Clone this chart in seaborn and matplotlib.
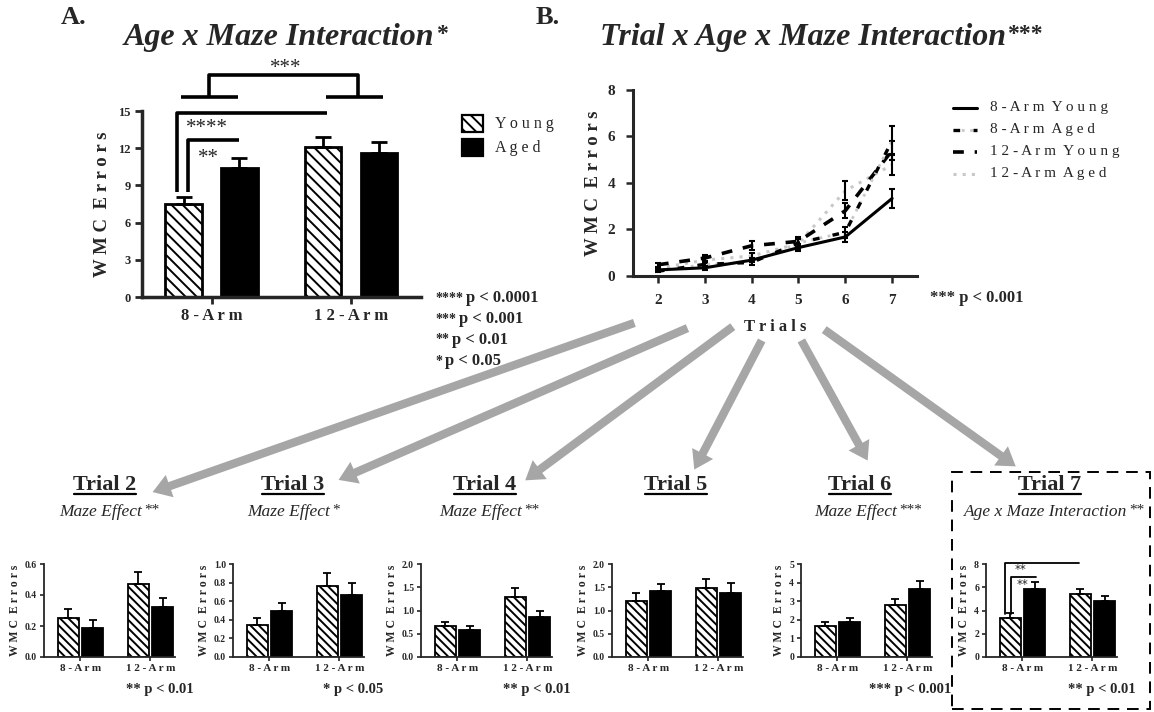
import numpy as np
import pandas as pd
import matplotlib
matplotlib.use("Agg")
import matplotlib.pyplot as plt
import seaborn as sns
from matplotlib.patches import FancyArrowPatch, Rectangle
from matplotlib.lines import Line2D
from matplotlib.transforms import IdentityTransform

# ---------------- data ----------------
mazes = ["8-Arm", "12-Arm"]
ages = ["Young", "Aged"]
maze_labels = ["8 - A r m", "1 2 - A r m"]

overall_young = [7.5, 12.1]
overall_aged = [10.4, 11.65]
overall_young_sem = [0.6, 0.8]
overall_aged_sem = [0.85, 0.85]

trials = [2, 3, 4, 5, 6, 7]
arm8_young = [0.25, 0.34, 0.67, 1.21, 1.67, 3.33]
arm8_aged = [0.19, 0.49, 0.57, 1.41, 1.87, 5.82]
arm12_young = [0.47, 0.76, 1.29, 1.48, 2.80, 5.40]
arm12_aged = [0.32, 0.67, 0.85, 1.38, 3.66, 4.78]
arm8_young_sem = [0.062, 0.082, 0.086, 0.16, 0.20, 0.42]
arm8_aged_sem = [0.047, 0.09, 0.094, 0.16, 0.225, 0.64]
arm12_young_sem = [0.078, 0.14, 0.187, 0.20, 0.325, 0.42]
arm12_aged_sem = [0.06, 0.13, 0.134, 0.21, 0.40, 0.45]

trial_ymax = [0.6, 1.0, 2.0, 2.0, 5, 8]
trial_ystep = [0.2, 0.2, 0.5, 0.5, 1, 2]
trial_effects = ["Maze Effect", "Maze Effect", "Maze Effect", "", "Maze Effect", "Age x Maze Interaction"]
trial_effect_stars = ["**", "*", "**", "", "***", "**"]
trial_pvals = ["** p < 0.01", "* p < 0.05", "** p < 0.01", "", "*** p < 0.001", "** p < 0.01"]

pval_lines_A = [("****", "p < 0.0001"), ("***", "p < 0.001"), ("**", "p < 0.01"), ("*", "p < 0.05")]

# ---------------- style ----------------
sns.set_style("ticks")
plt.rcParams["font.family"] = ["Liberation Serif", "DejaVu Serif"]
plt.rcParams["hatch.linewidth"] = 1.4

W, H = 1154, 712
fig = plt.figure(figsize=(W / 100, H / 100), dpi=100)


def ax_px(left, top, right, bottom):
    return fig.add_axes([left / W, 1 - bottom / H, (right - left) / W, (bottom - top) / H])


def ftext(x, y, s, **kw):
    return fig.text(x / W, 1 - y / H, s, **kw)


def sup(txt, s, size, **kw):
    return fig.axes[0].annotate(
        s, xy=(1, 1), xycoords=txt, xytext=(1, 0), textcoords="offset points",
        ha="left", va="top", fontsize=size, annotation_clip=False, **kw)


def bar_chart(ax, young, aged, ysem, asem, width, gap, lw, elw, capsize, hatch):
    df = pd.DataFrame({"Maze": mazes * 2,
                       "Age": ["Young"] * 2 + ["Aged"] * 2,
                       "Errors": list(young) + list(aged)})
    sns.barplot(data=df, x="Maze", y="Errors", hue="Age", order=mazes, hue_order=ages,
                palette={"Young": "white", "Aged": "black"}, width=width, gap=gap,
                edgecolor="black", linewidth=lw, legend=False, errorbar=None,
                saturation=1, ax=ax)
    for b in ax.containers[0]:
        b.set_hatch(hatch)
    for cont, sem in zip(list(ax.containers)[:2], [ysem, asem]):
        xs = [b.get_x() + b.get_width() / 2 for b in cont]
        ys = [b.get_height() for b in cont]
        ax.errorbar(xs, ys, yerr=[np.zeros(len(sem)), sem], fmt="none", ecolor="black",
                    elinewidth=elw, capsize=capsize, capthick=elw, zorder=1)
    sns.despine(ax=ax)


# ---------------- Panel A ----------------
axA = ax_px(141.7, 111, 421, 297)
bar_chart(axA, overall_young, overall_aged, overall_young_sem, overall_aged_sem,
          0.8, 0.35, 2.0, 2.0, 6, "\\\\\\")
axA.set_ylim(0, 15)
axA.set_xlim(-0.5, 1.5)
axA.set_yticks([0, 3, 6, 9, 12, 15])
axA.set_xticks([0, 1])
axA.set_xticklabels(maze_labels, fontsize=12, fontweight="bold")
for t in axA.get_yticklabels():
    t.set_fontsize(9)
    t.set_fontweight("bold")
axA.set_xlabel("")
axA.set_ylabel("W M C  E r r o r s", fontsize=13.5, fontweight="bold")
axA.yaxis.set_label_coords(-0.11, 0.5)
for sp in ["left", "bottom"]:
    axA.spines[sp].set_linewidth(2.5)
axA.tick_params(width=2, length=5, pad=3)

bk = dict(color="black", lw=2.6, clip_on=False, solid_capstyle="butt")
axA.plot([-0.216, 0.187], [16.16, 16.16], **bk)
axA.plot([0.82, 1.23], [16.16, 16.16], **bk)
axA.plot([-0.02, -0.02, 1.05, 1.05], [16.16, 17.9, 17.9, 16.16], **bk)
axA.text(0.53, 18.45, "***", ha="center", va="center", fontsize=15)
axA.plot([-0.245, -0.245, 0.825], [8.5, 14.84, 14.84], **bk)
axA.plot([-0.17, -0.17, 0.195], [8.5, 12.67, 12.67], **bk)
axA.text(-0.03, 13.55, "****", ha="center", va="center", fontsize=15)
axA.text(-0.025, 11.15, "**", ha="center", va="center", fontsize=15)

# legend A
fig.add_artist(Rectangle((462 / W, 1 - 132 / H), 21 / W, 17 / H, transform=fig.transFigure,
                         facecolor="white", edgecolor="black", lw=1.6, hatch="\\\\\\"))
fig.add_artist(Rectangle((462 / W, 1 - 156 / H), 21 / W, 17 / H, transform=fig.transFigure,
                         facecolor="black", edgecolor="black", lw=1.6))
ftext(495, 124, "Y o u n g", fontsize=11.5, va="center")
ftext(495, 148, "A g e d", fontsize=11.5, va="center")

# p values A
for i, (st, pv) in enumerate(pval_lines_A):
    y = 298 + 21 * i
    t = ftext(435, y, st, fontsize=10, va="center", fontweight="bold")
    fig.axes[0].annotate(pv, xy=(1, 0), xycoords=t, xytext=(2, -1), textcoords="offset points",
                         ha="left", va="bottom", fontsize=12, fontweight="bold",
                         annotation_clip=False)

# titles
ftext(61, 17, "A.", fontsize=19, fontweight="bold", va="center")
tA = ftext(279, 38, "Age x Maze Interaction", fontsize=23, fontweight="bold",
           fontstyle="italic", ha="center", va="center")
sup(tA, "*", 17, fontweight="bold")
ftext(536, 17, "B.", fontsize=19, fontweight="bold", va="center")
tB = ftext(803, 38, "Trial x Age x Maze Interaction", fontsize=23, fontweight="bold",
           fontstyle="italic", ha="center", va="center")
sup(tB, "***", 17, fontweight="bold")

# ---------------- Panel B ----------------
axB = ax_px(633, 90, 917, 275.7)
series = [
    ("12-Arm Aged", arm12_aged, arm12_aged_sem),
    ("12-Arm Young", arm12_young, arm12_young_sem),
    ("8-Arm Aged", arm8_aged, arm8_aged_sem),
    ("8-Arm Young", arm8_young, arm8_young_sem),
]
styles = {
    "8-Arm Young": [dict(color="black", lw=2.2, linestyle="-")],
    "8-Arm Aged": [dict(color="#c8c8c8", lw=2.0, linestyle=(0, (1, 2))),
                   dict(color="black", lw=2.4, linestyle=(0, (2, 4)))],
    "12-Arm Young": [dict(color="black", lw=2.6, linestyle=(0, (3, 3)))],
    "12-Arm Aged": [dict(color="#c8c8c8", lw=2.2, linestyle=(0, (1, 2)))],
}
for name, vals, sem in series:
    for st in styles[name]:
        sns.lineplot(x=trials, y=vals, ax=axB, errorbar=None, **st)
    axB.errorbar(trials, vals, yerr=sem, fmt="none", ecolor="black", elinewidth=1.5,
                 capsize=2.5, capthick=1.5)
axB.set_xlim(1.47, 7.53)
axB.set_ylim(0, 8)
axB.set_xticks(trials)
axB.set_yticks([0, 2, 4, 6, 8])
for t in axB.get_xticklabels() + axB.get_yticklabels():
    t.set_fontsize(11)
    t.set_fontweight("bold")
axB.set_xlabel("T r i a l s", fontsize=12, fontweight="bold", labelpad=9)
axB.set_ylabel("W M C  E r r o r s", fontsize=13.5, fontweight="bold")
axB.yaxis.set_label_coords(-0.11, 0.5)
sns.despine(ax=axB)
for sp in ["left", "bottom"]:
    axB.spines[sp].set_linewidth(2.2)
axB.tick_params(width=1.8, length=5, pad=8)

# legend B
leg_rows = ["8-Arm Young", "8-Arm Aged", "12-Arm Young", "12-Arm Aged"]
leg_text = ["8 - A r m  Y o u n g", "8 - A r m  A g e d", "1 2 - A r m  Y o u n g", "1 2 - A r m  A g e d"]
for i, (nm, lt) in enumerate(zip(leg_rows, leg_text)):
    y = 1 - (108 + 22 * i) / H
    for st in styles[nm]:
        fig.add_artist(Line2D([953 / W, 977 / W], [y, y], transform=fig.transFigure, **st))
    fig.text(990 / W, y, lt, fontsize=11, va="center")
ftext(930, 298, "*** p < 0.001", fontsize=12, fontweight="bold", va="center")

# ---------------- trial panels ----------------
lefts = [44, 233, 421, 612, 801, 986]
trial_data = list(zip(arm8_young, arm8_aged, arm12_young, arm12_aged,
                      arm8_young_sem, arm8_aged_sem, arm12_young_sem, arm12_aged_sem))
title_centers = [105, 293, 485, 676, 860, 1050]
title_objs = []
for i, tr in enumerate(trials):
    ax = ax_px(lefts[i], 564, lefts[i] + 131, 657)
    y8, a8, y12, a12, sy8, sa8, sy12, sa12 = trial_data[i]
    bar_chart(ax, [y8, y12], [a8, a12], [sy8, sy12], [sa8, sa12],
              0.7, 0.15, 1.3, 1.3, 3, "\\\\\\\\")
    ax.set_xlim(-0.52, 1.35)
    ax.set_ylim(0, trial_ymax[i])
    yt = np.arange(0, trial_ymax[i] + 1e-9, trial_ystep[i])
    ax.set_yticks(yt)
    if trial_ystep[i] < 1:
        ax.set_yticklabels([f"{v:.1f}" for v in yt])
    else:
        ax.set_yticklabels([f"{int(v)}" for v in yt])
    ax.set_xticks([0, 1])
    ax.set_xticklabels(maze_labels, fontsize=8, fontweight="bold")
    for t in ax.get_yticklabels():
        t.set_fontsize(7)
        t.set_fontweight("bold")
    ax.set_xlabel("")
    ax.set_ylabel("W M C  E r r o r s", fontsize=8.5, fontweight="bold", labelpad=3)
    for sp in ["left", "bottom"]:
        ax.spines[sp].set_linewidth(1.3)
    ax.tick_params(width=1.2, length=3, pad=2)

    tt = ftext(title_centers[i], 485, f"Trial {tr}", fontsize=16, fontweight="bold",
               ha="center", va="center")
    title_objs.append(tt)
    if trial_effects[i]:
        te = ftext(title_centers[i] - 4, 512, trial_effects[i], fontsize=12.5,
                   fontstyle="italic", ha="center", va="center")
        sup(te, trial_effect_stars[i], 11)
    if trial_pvals[i]:
        ftext(lefts[i] + 150, 690, trial_pvals[i], fontsize=10.5, fontweight="bold",
              ha="right", va="center")
    if tr == 7:
        bl = dict(color="black", lw=1.3, clip_on=False)
        ax.plot([-0.25, -0.25, 0.81], [3.66, 8.08, 8.08], **bl)
        ax.plot([-0.166, -0.166, 0.19], [3.66, 6.9, 6.9], **bl)
        ax.text(-0.03, 7.5, "**", ha="center", va="center", fontsize=8.5,
                family="DejaVu Sans")
        ax.text(0.0, 6.25, "**", ha="center", va="center", fontsize=8.5,
                family="DejaVu Sans")

# ---------------- arrows ----------------
arrows = [((637, 322), (150, 493)), ((690, 327), (336, 481)), ((735, 325), (523, 482)),
          ((763, 338), (693, 472)), ((800, 338), (869, 463)), ((822, 328), (1018, 468))]
for (x0, y0), (x1, y1) in arrows:
    fig.add_artist(FancyArrowPatch((x0 / 100, (H - y0) / 100), (x1 / 100, (H - y1) / 100),
                                   transform=fig.dpi_scale_trans,
                                   arrowstyle="simple,head_width=1.7,head_length=1.3,tail_width=0.6",
                                   mutation_scale=10, color="#a6a6a6", lw=0))

# dashed box
fig.add_artist(Rectangle((952 / W, 1 - 709 / H), 198 / W, 237 / H, transform=fig.transFigure,
                         fill=False, edgecolor="black", lw=1.4, linestyle=(0, (6, 4))))

# underline trial titles
fig.canvas.draw()
r = fig.canvas.get_renderer()
for tt in title_objs:
    bb = tt.get_window_extent(r)
    fig.add_artist(Line2D([bb.x0 + 1, bb.x1 - 1], [bb.y0 + 1, bb.y0 + 1],
                          transform=IdentityTransform(), color="black", lw=1.6))

fig.savefig("out.png", dpi=100)
